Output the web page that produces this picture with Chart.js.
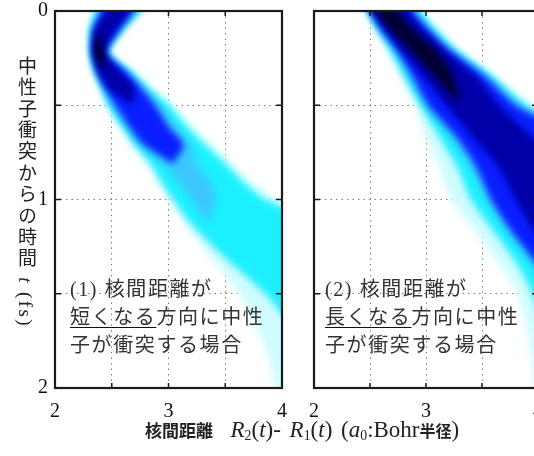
<!DOCTYPE html>
<html lang="ja">
<head>
<meta charset="utf-8">
<title>核間距離の時間発展</title>
<script src="https://cdn.jsdelivr.net/npm/chart.js"></script>
<style>
  html, body { margin: 0; padding: 0; background: #fff; }
  body { width: 534px; height: 456px; overflow: hidden; position: relative;
         font-family: "Liberation Serif", "Noto Sans CJK JP", serif; color: #222; }
  .panel { position: absolute; top: 0; }
  #p1 { left: 0; }
  #p2 { left: 300px; }
  .note { position: absolute; top: 275px; font-size: 20px; line-height: 28px; color: #333;
          letter-spacing: 1.6px; white-space: nowrap; }
  .note u { text-decoration-thickness: 1px; text-underline-offset: 3px; text-decoration-color: #111; }
  #ytitle { position: absolute; left: 12px; top: 56px; writing-mode: vertical-rl; text-orientation: mixed;
            font-size: 19px; letter-spacing: 2.4px; white-space: nowrap; }
  #xtitle { position: absolute; left: 145px; top: 418px; font-size: 23px; line-height: 24px;
            word-spacing: 3px; white-space: nowrap; }
  .jp { font-family: "Noto Sans CJK JP", sans-serif; font-weight: bold; font-size: 17px; }
  .jp.small { font-size: 16px; }
  sub { font-size: 0.6em; vertical-align: -0.25em; line-height: 0; }
</style>
</head>
<body>
<canvas id="p1" class="panel" width="300" height="456"></canvas>
<canvas id="p2" class="panel" width="260" height="456"></canvas>

<div id="ytitle">中性子衝突からの時間 <i>t</i> (fs)</div>
<div id="xtitle"><span class="jp">核間距離</span>&nbsp; <i>R</i><sub>2</sub>(<i>t</i>)- <i>R</i><sub>1</sub>(<i>t</i>) (<i>a</i><sub>0</sub>:Bohr<span class="jp small">半径</span>)</div>

<div class="note" style="left:70px">(1) 核間距離が<br><u>短くなる</u>方向に中性<br>子が衝突する場合</div>
<div class="note" style="left:325px">(2) 核間距離が<br><u>長くなる</u>方向に中性<br>子が衝突する場合</div>

<script>
// ---- data: time (fs) vs. edges of each density level (a0) ----
const xTicks = [2, 3, 4];
const yTicks = [0, 1, 2];

// panel (1): packet first moves inward, then spreads outward
const tLeft        = [-0.06, 0,    0.1,  0.22, 0.32, 0.41, 0.5,  0.62, 0.71, 0.81, 0.92, 1.0,  1.13, 1.3,  1.5,  1.75, 2.0,  2.1];
const leftFaintLo  = [2.39, 2.34, 2.29, 2.29, 2.33, 2.39, 2.45, 2.57, 2.67, 2.80, 2.91, 3.00, 3.14, 3.36, 3.62, 3.83, 3.95, 4.00];
const leftFaintHi  = [2.80, 2.77, 2.62, 2.49, 2.69, 2.86, 3.04, 3.22, 3.38, 3.56, 3.75, 3.95, 4.30, 4.30, 4.30, 4.30, 4.30, 4.30];
const leftCyanLo   = [2.41, 2.36, 2.31, 2.31, 2.35, 2.41, 2.47, 2.60, 2.70, 2.84, 2.95, 3.04, 3.20, 3.48, 3.85, 4.20];
const leftCyanHi   = [2.77, 2.75, 2.60, 2.47, 2.66, 2.82, 3.00, 3.17, 3.32, 3.50, 3.68, 3.85, 4.30, 4.30, 4.30, 4.30];
const leftSkyLo    = [2.43, 2.39, 2.33, 2.32, 2.36, 2.43, 2.50, 2.63, 2.75, 2.95, 3.10, 3.20, 3.35];
const leftSkyHi    = [2.74, 2.72, 2.58, 2.46, 2.64, 2.79, 2.93, 3.07, 3.20, 3.25, 3.38, 3.42, 3.35];
const leftBlueLo   = [2.45, 2.41, 2.34, 2.33, 2.37, 2.44, 2.53, 2.66, 2.78, 3.04];
const leftBlueHi   = [2.72, 2.69, 2.57, 2.45, 2.62, 2.76, 2.88, 3.01, 3.13, 3.04];
const leftNavyLo   = [2.48, 2.45, 2.35, 2.335, 2.38, 2.47, 2.68];
const leftNavyHi   = [2.68, 2.66, 2.54, 2.44, 2.58, 2.70, 2.68];
const leftCoreLo   = [null, null, 2.38, 2.345, 2.43];
const leftCoreHi   = [null, null, 2.38, 2.43, 2.43];

// panel (2): packet moves straight outward
const tRight       = [-0.06, 0,    0.1,  0.21, 0.35, 0.5,  0.67, 0.83, 1.0,  1.15, 1.35, 1.5,  1.75, 2.0,  2.1];
const rightFaintLo = [2.41, 2.46, 2.55, 2.65, 2.77, 2.90, 3.00, 3.12, 3.22, 3.42, 3.66, 3.82, 3.92, 3.97, 3.98];
const rightFaintHi = [2.93, 2.97, 3.12, 3.30, 3.62, 3.94, 4.30, 4.30, 4.30, 4.30, 4.30, 4.30, 4.30, 4.30, 4.30];
const rightCyanLo  = [2.43, 2.48, 2.57, 2.68, 2.81, 2.95, 3.12, 3.28, 3.40, 3.58, 3.82, 3.95, 4.10];
const rightCyanHi  = [2.90, 2.94, 3.08, 3.27, 3.59, 3.89, 4.30, 4.30, 4.30, 4.30, 4.30, 4.30, 4.30];
const rightSkyLo   = [2.45, 2.49, 2.58, 2.72, 2.85, 2.99, 3.22, 3.40, 3.54, 3.70, 3.95, 4.10];
const rightSkyHi   = [2.87, 2.91, 3.05, 3.24, 3.56, 3.84, 4.30, 4.30, 4.30, 4.30, 4.30, 4.30];
const rightBlueLo  = [2.46, 2.50, 2.60, 2.74, 2.88, 3.02, 3.27, 3.45, 3.58, 3.74, 4.00, 4.20];
const rightBlueHi  = [2.85, 2.88, 3.02, 3.21, 3.53, 3.80, 4.30, 4.30, 4.30, 4.30, 4.30, 4.30];
const rightNavyLo  = [2.48, 2.52, 2.64, 2.78, 2.98, 3.18, 3.42, 3.65, 3.80, 3.95, 4.20];
const rightNavyHi  = [2.80, 2.84, 2.98, 3.17, 3.45, 3.65, 3.95, 4.30, 4.30, 4.30, 4.30];
const rightCoreLo  = [2.52, 2.55, 2.68, 2.86, 3.08, 3.30];
const rightCoreHi  = [2.76, 2.74, 2.88, 3.09, 3.24, 3.30];

// white -> cyan -> blue -> black
const levelColors = ['#cffcff', '#1cf0ff', '#3cc8ff', '#0a1eff', '#0000a8', '#000030'];

// closed outline: down the low edge, back up the high edge
function band(t, lo, hi, color) {
    const down = [], up = [];
    t.forEach((tt, i) => {
        if (lo[i] == null || hi[i] == null) return;
        down.push({ x: lo[i], y: tt });
        up.unshift({ x: hi[i], y: tt });
    });
    return {
        data: down.concat(up),
        backgroundColor: color,
        fill: 'shape',
        borderWidth: 0,
        pointRadius: 0,
        tension: 0.25
    };
}

// blur the filled levels so they blend like the density map
const soften = {
    id: 'soften',
    beforeDatasetsDraw(chart) { chart.ctx.save(); chart.ctx.filter = 'blur(3.5px)'; },
    afterDatasetsDraw(chart)  { chart.ctx.restore(); }
};

// box with inward tick marks
const frame = {
    id: 'frame',
    afterDraw(chart) {
        const { ctx, chartArea: a, scales: { x, y } } = chart;
        ctx.save();
        ctx.strokeStyle = '#1a1a1a';
        ctx.lineWidth = 1.5;
        ctx.beginPath();
        x.ticks.forEach(tk => {
            const px = x.getPixelForValue(tk.value);
            ctx.moveTo(px, a.top);    ctx.lineTo(px, a.top + 5);
            ctx.moveTo(px, a.bottom); ctx.lineTo(px, a.bottom - 5);
        });
        y.ticks.forEach(tk => {
            const py = y.getPixelForValue(tk.value);
            ctx.moveTo(a.left, py);  ctx.lineTo(a.left + 6, py);
            ctx.moveTo(a.right, py); ctx.lineTo(a.right - 6, py);
        });
        ctx.stroke();
        ctx.lineWidth = 2.2;
        ctx.strokeRect(a.left, a.top, a.right - a.left, a.bottom - a.top);
        ctx.restore();
    }
};

const isMajor = (v, list) => list.some(m => Math.abs(m - v) < 1e-6);
const tickFont = { family: 'Liberation Serif', size: 20 };
const gridOpts = { color: '#7d7d7d', lineWidth: 1, drawTicks: false };
const dotted = { display: false, dash: [1.5, 4] };

// fixed axis size, no automatic label padding
const fixSize = (w, h) => s => {
    if (w != null) s.width = w;
    if (h != null) s.height = h;
    s.paddingTop = s.paddingBottom = s.paddingLeft = s.paddingRight = 0;
};

function makePanel(canvasId, t, levels, yWidth, padRight, showY) {
    // innermost level first so it is painted on top
    const datasets = levels.slice().reverse().map((lv, i) =>
        band(t, lv[0], lv[1], levelColors[levelColors.length - 1 - i]));
    return new Chart(document.getElementById(canvasId).getContext('2d'), {
        type: 'line',
        data: { datasets },
        options: {
            responsive: false,
            animation: false,
            layout: { autoPadding: false, padding: { top: 11, right: padRight, left: 0, bottom: 0 } },
            plugins: { legend: { display: false }, tooltip: { enabled: false } },
            scales: {
                x: {
                    type: 'linear', min: 2, max: 4, z: 1,
                    ticks: { stepSize: 0.5, autoSkip: false, maxRotation: 0, padding: 12,
                             font: tickFont, color: '#111',
                             callback: v => isMajor(v, xTicks) ? v : '' },
                    grid: gridOpts, border: dotted,
                    afterFit: fixSize(null, 68)
                },
                y: {
                    type: 'linear', min: 0, max: 2, reverse: true, z: 1,
                    ticks: { stepSize: 0.5, autoSkip: false, padding: 7,
                             font: tickFont, color: '#111',
                             callback: v => (showY && isMajor(v, yTicks)) ? v : '' },
                    grid: gridOpts, border: dotted,
                    afterFit: fixSize(yWidth, null)
                }
            }
        },
        plugins: [soften, frame]
    });
}

makePanel('p1', tLeft, [
    [leftFaintLo, leftFaintHi], [leftCyanLo, leftCyanHi], [leftSkyLo, leftSkyHi],
    [leftBlueLo, leftBlueHi], [leftNavyLo, leftNavyHi], [leftCoreLo, leftCoreHi]
], 55, 18, true);

makePanel('p2', tRight, [
    [rightFaintLo, rightFaintHi], [rightCyanLo, rightCyanHi], [rightSkyLo, rightSkyHi],
    [rightBlueLo, rightBlueHi], [rightNavyLo, rightNavyHi], [rightCoreLo, rightCoreHi]
], 14, 22, false);
</script>
</body>
</html>
